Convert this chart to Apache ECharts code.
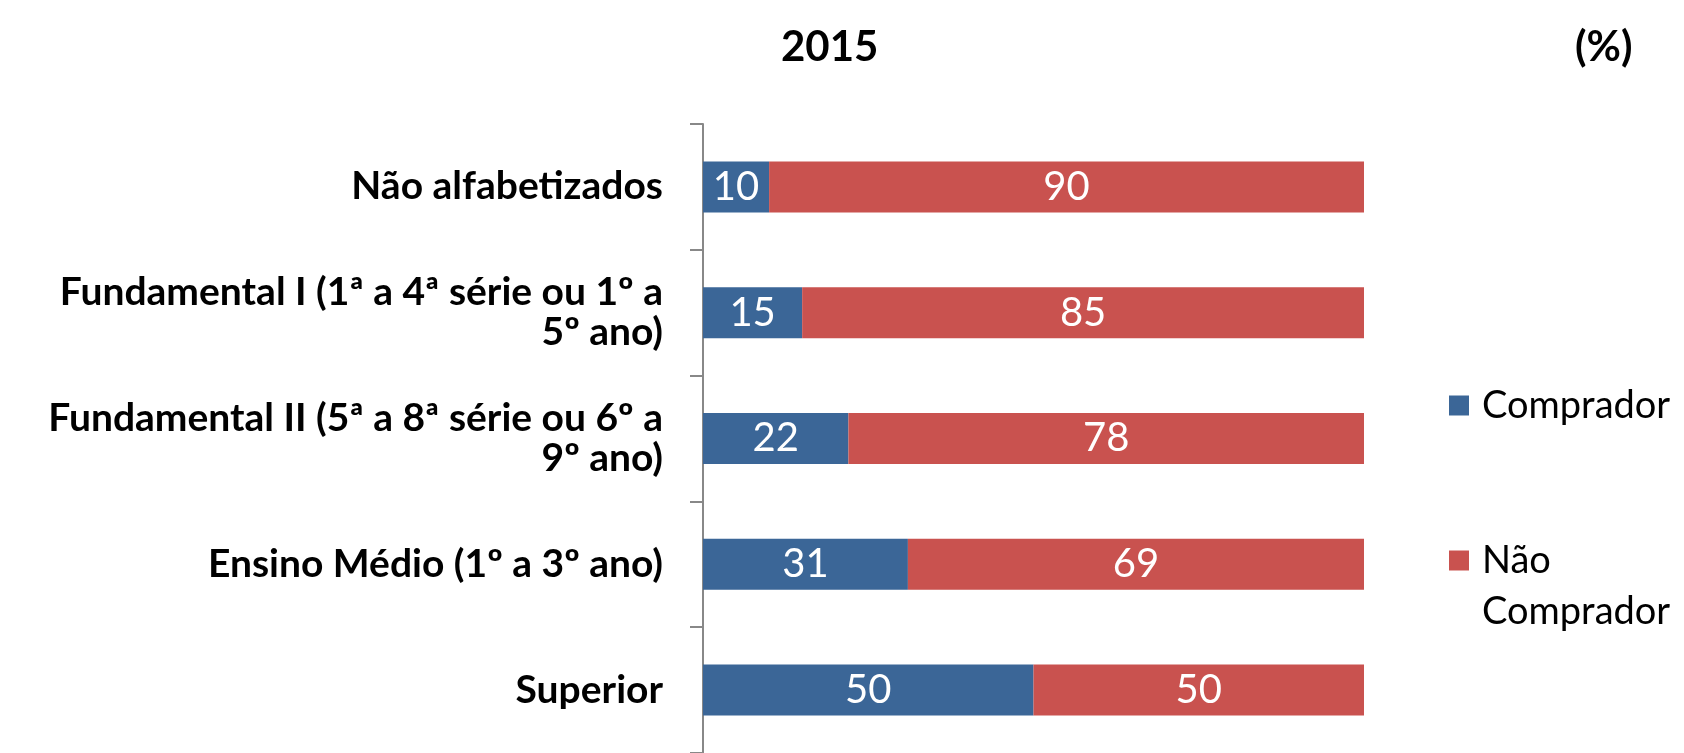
<!DOCTYPE html>
<html style="height: 100%">
<head>
<meta charset="UTF-8">
</head>
<body style="height: 100%; margin: 0; background: #fff">
<div id="container" style="width: 1684px; height: 753px"></div>
<script src="https://cdn.jsdelivr.net/npm/echarts@6/dist/echarts.min.js"></script>
<script type="text/javascript">
var categories = [
	'Não alfabetizados',
	'Fundamental I (1ª a 4ª série ou 1º a\n5º ano)',
	'Fundamental II (5ª a 8ª série ou 6º a\n9º ano)',
	'Ensino Médio (1º a 3º ano)',
	'Superior'
];
var comprador = [10, 15, 22, 31, 50];
var naoComprador = [90, 85, 78, 69, 50];

var myChart = echarts.init(document.getElementById('container'));
var fonte = 'Lato';

var option = {
	animation: false,
	title: [
		{ text: '2015', left: 781, top: 26, padding: 0,
		  textStyle: { fontFamily: fonte, fontSize: 42, fontWeight: 'bold', color: '#000' } },
		{ text: '(%)', left: 1575, top: 26, padding: 0,
		  textStyle: { fontFamily: fonte, fontSize: 42, fontWeight: 'bold', color: '#000' } }
	],
	legend: [
		{
			data: ['Comprador'],
			orient: 'vertical',
			left: 1449, top: 380, padding: 0,
			itemWidth: 20, itemHeight: 20,
			icon: 'rect',
			textStyle: { fontFamily: fonte, fontSize: 38, color: '#000', lineHeight: 51, padding: [0, 0, 0, 8] }
		},
		{
			data: ['Não Comprador'],
			orient: 'vertical',
			left: 1449, top: 484, padding: 0,
			itemWidth: 20, itemHeight: 20,
			icon: 'rect',
			// linha vazia no topo para alinhar o quadrado com "Não"
			formatter: function () { return ' \nNão\nComprador'; },
			textStyle: { fontFamily: fonte, fontSize: 38, color: '#000', lineHeight: 51, padding: [0, 0, 0, 8] }
		}
	],
	grid: { left: 703, top: 124, right: 320, bottom: -1, containLabel: false },
	xAxis: {
		type: 'value', min: 0, max: 100,
		show: false
	},
	yAxis: {
		type: 'category',
		inverse: true,
		data: categories,
		axisLine: { show: true, lineStyle: { color: '#888', width: 2 } },
		axisTick: { show: true, length: 13, lineStyle: { color: '#888', width: 2 } },
		axisLabel: {
			margin: 40,
			fontFamily: fonte, fontSize: 39, fontWeight: 'bold', color: '#000',
			lineHeight: 40, align: 'right'
		}
	},
	series: [
		{
			name: 'Comprador', type: 'bar', stack: 'total',
			data: comprador, barWidth: 51,
			itemStyle: { color: '#3B6697' },
			label: { show: true, position: 'inside', color: '#fff', fontFamily: fonte, fontSize: 40 }
		},
		{
			name: 'Não Comprador', type: 'bar', stack: 'total',
			data: naoComprador, barWidth: 51,
			itemStyle: { color: '#C9524F' },
			label: { show: true, position: 'inside', color: '#fff', fontFamily: fonte, fontSize: 40 }
		}
	]
};
myChart.setOption(option);
</script>
</body>
</html>
